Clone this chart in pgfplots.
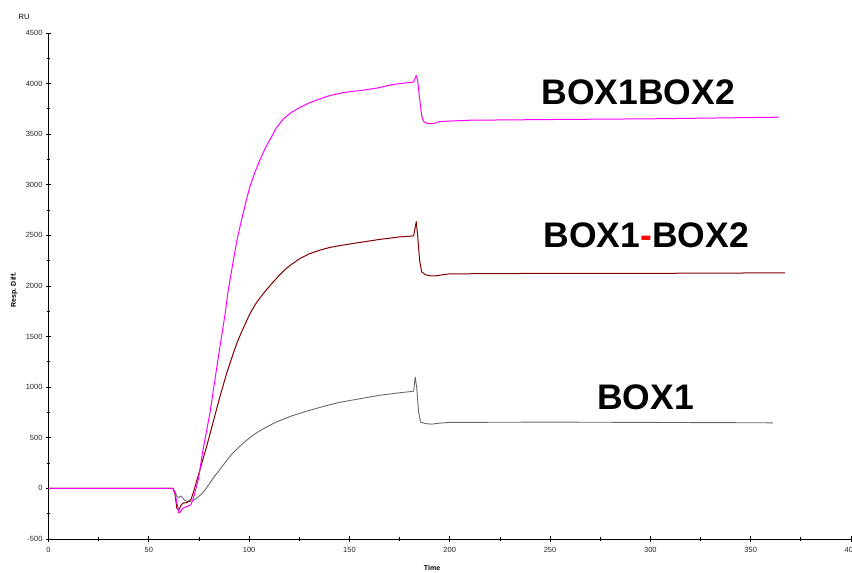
\documentclass[border=0pt]{standalone}
\usepackage{fontspec}
\setmainfont{Liberation Sans}
\usepackage{pgfplots}
\pgfplotsset{compat=1.18}

\definecolor{boxtwo}{RGB}{255,0,255}
\definecolor{boxlink}{RGB}{128,0,0}
\definecolor{boxone}{RGB}{105,105,105}

% sensorgram traces (time in s, response in RU)
\pgfplotstableread{
t r
0 0
62 0
63 -40
64 -140
65 -245
66 -225
67 -195
69 -180
71 -160
72 -110
73 -40
74.7 90
77 380
80.5 748
83 1080
85.5 1405
88 1720
89.5 1950
91 2120
92.2 2260
94 2460
96.3 2660
98.5 2840
100.5 2990
103 3130
105.5 3250
108 3360
110.5 3450
113.5 3560
117 3650
121 3715
125.4 3765
130 3810
135.4 3850
140 3880
145.4 3905
150 3920
155 3930
160 3945
165 3960
170 3985
175 4000
182 4015
183.3 4080
184 4030
185 3850
186 3680
187 3625
189 3605
192 3605
195 3625
200 3630
210 3638
250 3645
300 3652
364 3668
}\boxboth

\pgfplotstableread{
t r
0 0
62 0
63 -50
64 -200
65 -210
66 -170
67 -145
69 -140
71 -110
72.2 -40
75 150
78.9 420
82 650
85.5 910
89 1150
92.2 1340
94 1440
96 1535
98.5 1645
100.5 1730
103 1815
105.5 1885
108 1948
112 2040
115.5 2115
118 2165
121 2212
125.4 2272
130 2318
135.4 2355
140 2380
145.4 2400
155 2430
165 2460
175 2485
182 2495
183.3 2635
184 2500
185 2250
186 2140
188 2110
190.5 2100
193 2100
196 2110
200 2120
250 2125
300 2125
367 2130
}\boxlinked

\pgfplotstableread{
t r
0 0
62 0
63 -30
64 -80
65 -90
66 -75
67 -95
68 -120
70 -130
72 -120
74 -95
76 -60
78 -15
80 40
82 100
85 175
88 255
91 330
95 410
99 480
103 540
108 600
114 660
121 715
129 765
137 810
145 850
155 885
165 920
175 945
182 960
182.8 1100
183.5 1000
184.5 750
185.5 655
188 640
191 635
195 645
200 652
250 655
300 652
361 648
}\boxsingle

\begin{document}
\begin{tikzpicture}
\begin{axis}[
  scale only axis,
  width=802.5pt, height=506pt,
  at={(48.5pt,34pt)}, anchor=south west,
  xmin=0, xmax=400, ymin=-500, ymax=4500,
  axis lines=left,
  axis line style={-, line width=0.9pt, black},
  xtick={0,50,...,400},
  ytick={-500,0,...,4500},
  minor tick num=1,
  tick align=center,
  major tick length=5pt,
  minor tick length=3pt,
  tick style={line width=0.8pt, black},
  /pgf/number format/assume math mode=true,
  /pgf/number format/1000 sep={},
  tick label style={font=\fontsize{7.5}{8}\selectfont, text=black!85},
  xticklabel style={yshift=-2pt},
  clip=false,
]
\addplot[boxone, line width=0.9pt, line join=round] table[x=t, y=r] {\boxsingle};
\addplot[boxlink, line width=1pt, line join=round] table[x=t, y=r] {\boxlinked};
\addplot[boxtwo, line width=1pt, line join=round] table[x=t, y=r] {\boxboth};

\node[font=\fontsize{35.5}{36}\selectfont\bfseries] at (axis cs:293.9,3917) {BOX1BOX2};
\node[font=\fontsize{35.5}{36}\selectfont\bfseries] at (axis cs:297.9,2500) {BOX1\textcolor{red}{-}BOX2};
\node[font=\fontsize{35.5}{36}\selectfont\bfseries] at (axis cs:297.6,899) {BOX1};

\node[font=\fontsize{7.5}{8}\selectfont] at (axis description cs:-0.0305,1.032) {RU};
\node[font=\fontsize{7}{8}\selectfont\bfseries, rotate=90] at (axis description cs:-0.043,0.492) {Resp. Diff.};
\node[font=\fontsize{7}{8}\selectfont\bfseries] at (axis description cs:0.478,-0.057) {Time};
\end{axis}
\pgfresetboundingbox
\path (0,0) rectangle (852pt,573pt);
\end{tikzpicture}
\end{document}
